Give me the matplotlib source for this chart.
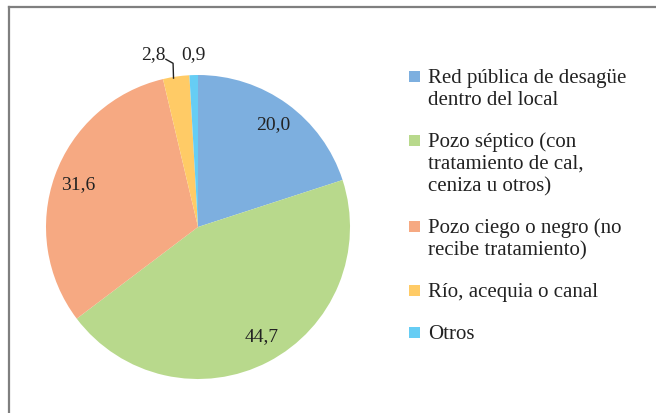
import numpy as np
import matplotlib.pyplot as plt
from matplotlib.patches import Rectangle
from matplotlib.lines import Line2D

# Data
categories = [
    "Red pública de desagüe\ndentro del local",
    "Pozo séptico (con\ntratamiento de cal,\nceniza u otros)",
    "Pozo ciego o negro (no\nrecibe tratamiento)",
    "Río, acequia o canal",
    "Otros",
]
values = [20.0, 44.7, 31.6, 2.8, 0.9]
value_labels = ["20,0", "44,7", "31,6", "2,8", "0,9"]
colors = ["#7dafdf", "#b8d98c", "#f6a982", "#ffcb66", "#66cdf4"]

plt.rcParams["font.family"] = ["Liberation Serif", "DejaVu Serif"]

W, H = 656, 414
fig = plt.figure(figsize=(W / 100, H / 100), dpi=100)

# pie axes: center (198, 228) px from top, radius 152 px
cx, cy, R, k = 198, H - 228, 152, 1.2
ax = fig.add_axes([(cx - R * k) / W, (cy - R * k) / H, 2 * R * k / W, 2 * R * k / H])

wedges, _ = ax.pie(values, colors=colors, startangle=90, counterclock=False,
                   radius=1.0, wedgeprops=dict(linewidth=0))
ax.set_xlim(-k, k)
ax.set_ylim(-k, k)
ax.set_aspect("equal")
ax.axis("off")

# label placement (radius factor, angle tweak in degrees)
label_style = [(0.84, 0), (0.83, 3), (0.835, 0), (1.176, 6.3), (1.14, 0)]
for w, txt, (rf, da) in zip(wedges, value_labels, label_style):
    mid = np.deg2rad((w.theta1 + w.theta2) / 2)
    ang = mid + np.deg2rad(da)
    x, y = rf * np.cos(ang), rf * np.sin(ang)
    ax.text(x, y, txt, ha="center", va="center", fontsize=14, color="#222222", clip_on=False)
    if txt == "2,8":
        ex, ey = np.cos(mid), np.sin(mid)
        ax.plot([x + 0.085, ex - 0.02, ex - 0.017],
                [y - 0.035, 1.077, ey - 0.01],
                color="#222222", lw=1, clip_on=False)

# legend drawn manually
lx, ty, line_h, gap = 409, 83, 22, 20
y = ty
for cat, col in zip(categories, colors):
    lines = cat.split("\n")
    fig.patches.append(Rectangle((lx / W, (H - y) / H), 11 / W, 11 / H,
                                 transform=fig.transFigure, facecolor=col, edgecolor="none"))
    for i, ln in enumerate(lines):
        fig.text((lx + 19) / W, (H - y - i * line_h) / H, ln, ha="left", va="baseline",
                 fontsize=15, color="#222222")
    y += len(lines) * line_h + gap

# frame around chart (only top and left visible)
fig.add_artist(Line2D([8.5 / W, 8.5 / W], [0, (H - 7.5) / H], color="#7f7f7f", lw=1.6))
fig.add_artist(Line2D([8.5 / W, 1], [(H - 7.5) / H, (H - 7.5) / H], color="#7f7f7f", lw=1.6))

fig.savefig("out.png", dpi=100)
